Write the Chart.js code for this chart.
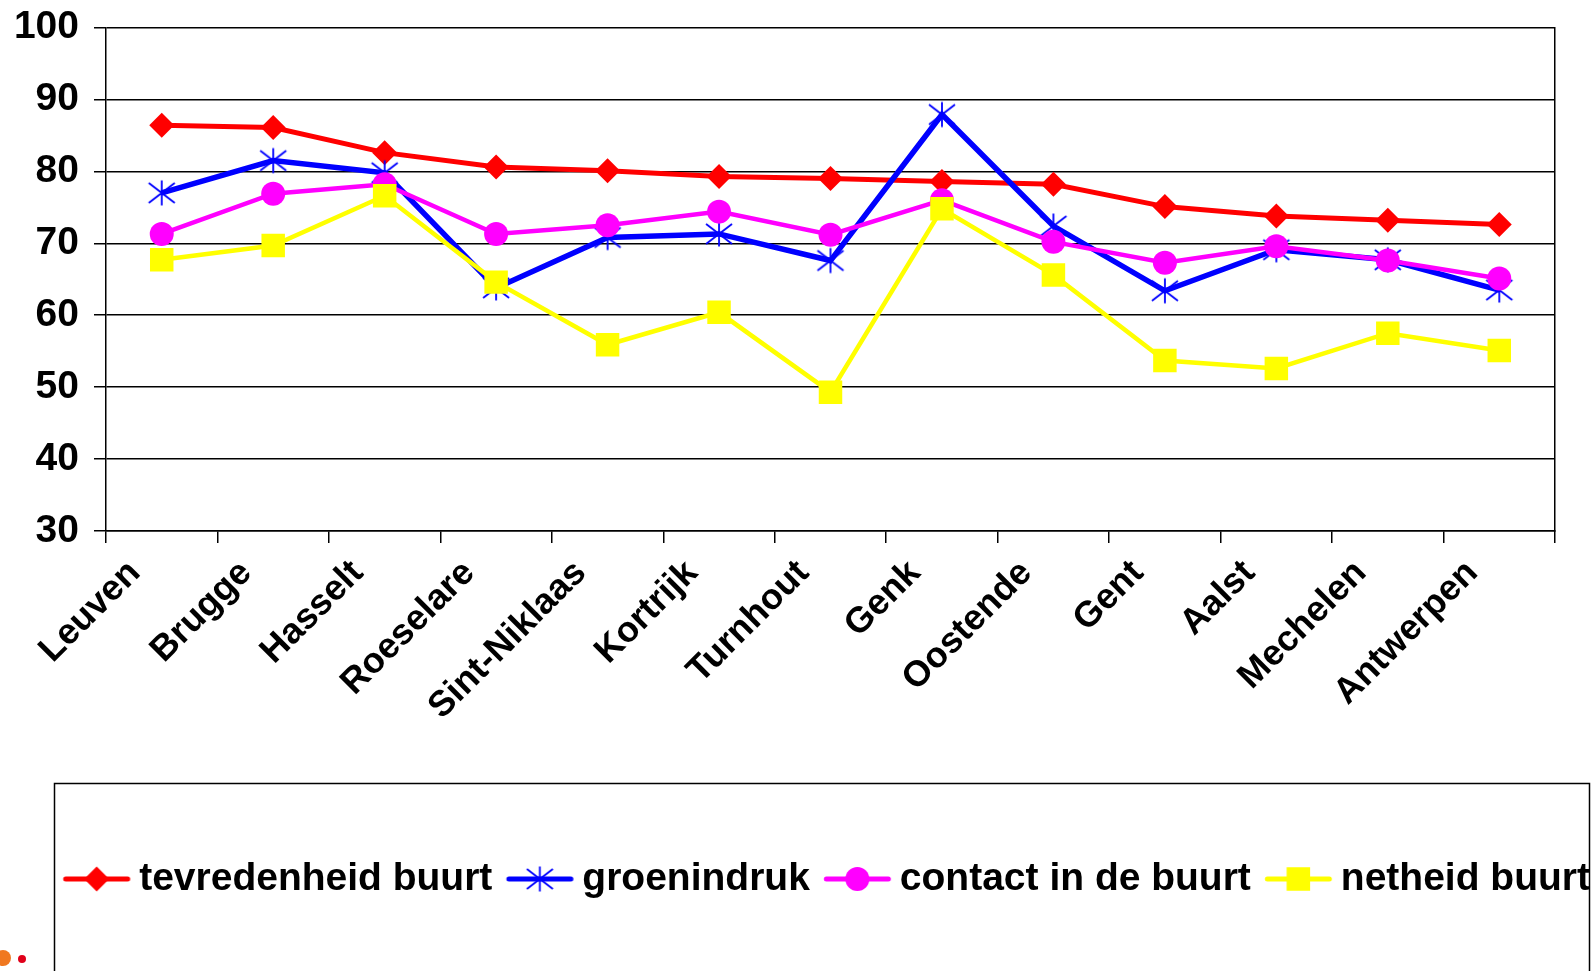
<!DOCTYPE html>
<html><head><meta charset="utf-8">
<script src="https://cdn.jsdelivr.net/npm/chart.js@4.4.0/dist/chart.umd.min.js"></script>
<style>
html,body{margin:0;padding:0;background:#fff;overflow:hidden}
#wrap{position:relative;width:1592px;height:971px}
canvas{display:block}
.dot{position:absolute;border-radius:50%}
</style></head><body>
<div id="wrap"><canvas id="c" width="1592" height="971"></canvas>
<div class="dot" style="left:-5px;top:950px;width:16px;height:16px;background:#F07820"></div>
<div class="dot" style="left:18px;top:955px;width:8px;height:8px;background:#E0001A"></div>
</div>
<script>
const categories = ['Leuven','Brugge','Hasselt','Roeselare','Sint-Niklaas','Kortrijk','Turnhout','Genk','Oostende','Gent','Aalst','Mechelen','Antwerpen'];
const tevredenheidBuurt = [86.4, 86.1, 82.6, 80.6, 80.1, 79.3, 79.0, 78.6, 78.2, 75.1, 73.8, 73.2, 72.6];
const groenindruk      = [77.0, 81.5, 79.8, 63.8, 70.8, 71.3, 67.6, 87.9, 72.4, 63.4, 69.1, 67.7, 63.5];
const contactInDeBuurt = [71.3, 76.9, 78.2, 71.3, 72.5, 74.4, 71.2, 76.0, 70.2, 67.3, 69.6, 67.6, 65.1];
const netheidBuurt     = [67.7, 69.7, 76.6, 64.6, 55.9, 60.4, 49.3, 74.8, 65.6, 53.7, 52.6, 57.5, 55.1];
const seriesNames = ['tevredenheid buurt', 'groenindruk', 'contact in de buurt', 'netheid buurt'];
const yTicks = [30, 40, 50, 60, 70, 80, 90, 100];

const RED = '#FF0000', BLUE = '#0000FF', MAGENTA = '#FF00FF', YELLOW = '#FFFF00';

function drawMarker(g, kind, color, cx, cy) {
  g.save();
  g.fillStyle = color; g.strokeStyle = color;
  if (kind === 'diamond') {
    const r = 12.5;
    g.beginPath(); g.moveTo(cx, cy - r); g.lineTo(cx + r, cy); g.lineTo(cx, cy + r); g.lineTo(cx - r, cy); g.closePath(); g.fill();
  } else if (kind === 'circle') {
    g.beginPath(); g.arc(cx, cy, 12, 0, Math.PI * 2); g.fill();
  } else if (kind === 'square') {
    g.fillRect(cx - 11.75, cy - 11.75, 23.5, 23.5);
  } else if (kind === 'asterisk') {
    g.lineWidth = 1.8; g.lineCap = 'butt';
    g.beginPath();
    g.moveTo(cx, cy - 12.5); g.lineTo(cx, cy + 12.5);
    g.moveTo(cx - 13, cy - 10); g.lineTo(cx + 13, cy + 10);
    g.moveTo(cx - 13, cy + 10); g.lineTo(cx + 13, cy - 10);
    g.stroke();
  }
  g.restore();
}

function asteriskPoint() {
  const c = document.createElement('canvas'); c.width = 30; c.height = 30;
  drawMarker(c.getContext('2d'), 'asterisk', BLUE, 15, 15);
  return c;
}

// legend sample: 67px line with marker in the middle
const LEG_BOX = 68.5, LEG_LINE_START = 12, LEG_LINE_LEN = 67, LEG_IMG_W = 100;
function legendIcon(color, kind, lw) {
  const c = document.createElement('canvas'); c.width = LEG_IMG_W; c.height = 40;
  const g = c.getContext('2d');
  const off = LEG_LINE_START - (LEG_BOX / 2 - LEG_IMG_W / 2);
  g.strokeStyle = color; g.lineWidth = lw; g.lineCap = 'round';
  g.beginPath(); g.moveTo(off + lw / 2, 20); g.lineTo(off + LEG_LINE_LEN - lw / 2, 20); g.stroke();
  drawMarker(g, kind, color, off + LEG_LINE_LEN / 2, 20);
  return c;
}

const icons = [legendIcon(RED, 'diamond', 5), legendIcon(BLUE, 'asterisk', 5), legendIcon(MAGENTA, 'circle', 5), legendIcon(YELLOW, 'square', 5)];

const legendFrame = {
  id: 'legendFrame',
  afterDraw(chart) {
    const lg = chart.legend, ctx = chart.ctx;
    ctx.save();
    ctx.strokeStyle = '#000'; ctx.lineWidth = 1.5;
    ctx.strokeRect(54.5, lg.top + 0.5, 1535, 400);
    ctx.restore();
  }
};

Chart.defaults.font.family = '"Liberation Sans", Arial, sans-serif';
Chart.defaults.font.weight = 'bold';
Chart.defaults.color = '#000';

new Chart(document.getElementById('c'), {
  type: 'line',
  data: {
    labels: categories,
    datasets: [
      { label: seriesNames[0], data: tevredenheidBuurt, borderColor: RED, backgroundColor: RED, borderWidth: 5, pointStyle: 'rectRot', pointRadius: 12.5, pointHoverRadius: 12.5, pointBorderWidth: 0, order: 4 },
      { label: seriesNames[1], data: groenindruk, borderColor: BLUE, backgroundColor: BLUE, borderWidth: 5.5, pointStyle: asteriskPoint(), pointRadius: 13, pointBorderWidth: 0, order: 3 },
      { label: seriesNames[2], data: contactInDeBuurt, borderColor: MAGENTA, backgroundColor: MAGENTA, borderWidth: 4.5, pointStyle: 'circle', pointRadius: 12, pointHoverRadius: 12, pointBorderWidth: 0, order: 2 },
      { label: seriesNames[3], data: netheidBuurt, borderColor: YELLOW, backgroundColor: YELLOW, borderWidth: 4.5, pointStyle: 'rect', pointRadius: 16.6, pointHoverRadius: 16.6, pointBorderWidth: 0, order: 1 }
    ]
  },
  options: {
    responsive: false,
    animation: false,
    devicePixelRatio: 1,
    layout: { padding: { top: 27.5, left: 12, right: 0, bottom: 62.5 } },
    elements: { line: { tension: 0, fill: false } },
    scales: {
      x: {
        type: 'category', offset: true,
        grid: { display: true, drawOnChartArea: false, drawTicks: true, tickLength: 12, color: '#000', tickColor: '#000', lineWidth: 1.5, offset: true },
        border: { display: true, color: '#000', width: 1.5 },
        ticks: { autoSkip: false, minRotation: 45, maxRotation: 45, padding: 9, labelOffset: -27, color: '#000', font: { size: 36, weight: 'bold' } },
        afterFit: s => { s.height = 252; }
      },
      y: {
        min: yTicks[0], max: yTicks[yTicks.length - 1],
        afterBuildTicks: s => { s.ticks = yTicks.map(v => ({ value: v })); },
        grid: { color: '#000', lineWidth: 1.5, tickLength: 12, tickColor: '#000' },
        border: { display: true, color: '#000', width: 1.5 },
        ticks: { padding: 15, color: '#000', font: { size: 39, weight: 'bold' } },
        afterFit: s => { s.width = 94; s.paddingTop = 0; s.paddingBottom = 0; }
      },
      y2: {
        position: 'right', display: true,
        ticks: { display: false },
        grid: { drawOnChartArea: false, drawTicks: false },
        border: { display: true, color: '#000', width: 1.5 },
        afterFit: s => { s.width = 37; }
      }
    },
    plugins: {
      tooltip: { enabled: false },
      legend: {
        position: 'bottom', align: 'end',
        title: { display: true, text: '', padding: { top: 32.25, bottom: 32.25 }, font: { size: 10, lineHeight: 1 } },
        labels: {
          usePointStyle: true, pointStyleWidth: LEG_BOX, boxHeight: 39, padding: 2,
          color: '#000', font: { size: 39, weight: 'bold' },
          generateLabels: chart => chart.data.datasets.map((ds, i) => ({
            text: ds.label, pointStyle: icons[i], fillStyle: ds.borderColor, strokeStyle: ds.borderColor,
            lineWidth: 0, hidden: false, datasetIndex: i, fontColor: '#000'
          }))
        }
      }
    }
  },
  plugins: [legendFrame]
});
</script>
</body></html>
